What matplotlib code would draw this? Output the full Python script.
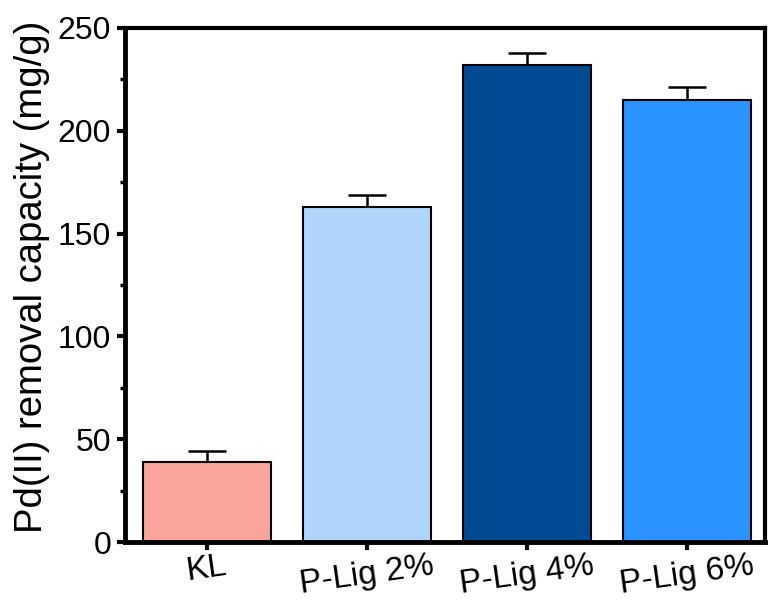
import matplotlib.pyplot as plt
from matplotlib.ticker import MultipleLocator

plt.rcParams['font.family'] = ['Liberation Sans', 'DejaVu Sans']

samples = ["KL", "P-Lig 2%", "P-Lig 4%", "P-Lig 6%"]
capacity = [39, 163, 232, 215]
errors = [5.5, 5.5, 6, 6]
colors = ["#F9A59C", "#B0D5FA", "#004A94", "#2A93FF"]

fig = plt.figure(figsize=(7.72, 6.05), dpi=100)
ax = fig.add_axes([0.162, 0.104, 0.829, 0.850])

x = range(len(samples))
ax.bar(x, capacity, width=0.8, color=colors, edgecolor='black', linewidth=1.5, zorder=2)
ax.errorbar(x, capacity, yerr=[[0]*len(errors), errors], fmt='none',
            ecolor='black', elinewidth=1.8, capsize=14, capthick=1.8, zorder=1)

ax.set_xlim(-0.51, 3.49)
ax.set_ylim(0, 250)
ax.set_xticks(list(x))
ax.set_xticklabels(samples, rotation=8, ha='center', fontsize=24)
ax.yaxis.set_major_locator(MultipleLocator(50))
ax.yaxis.set_minor_locator(MultipleLocator(25))
ax.tick_params(axis='y', labelsize=23, pad=4)
ax.tick_params(axis='x', pad=0)
ax.tick_params(which='major', direction='out', length=6, width=3)
ax.tick_params(which='minor', direction='out', length=3.5, width=2.5)
ax.tick_params(axis='x', which='minor', bottom=False)

for side in ['left', 'bottom']:
    ax.spines[side].set_linewidth(3.5)
for side in ['top', 'right']:
    ax.spines[side].set_linewidth(3)

ax.set_ylabel("Pd(II) removal capacity (mg/g)", fontsize=27.5)
ax.yaxis.set_label_coords(-0.118, 0.515)

plt.savefig("out.png", dpi=100)
